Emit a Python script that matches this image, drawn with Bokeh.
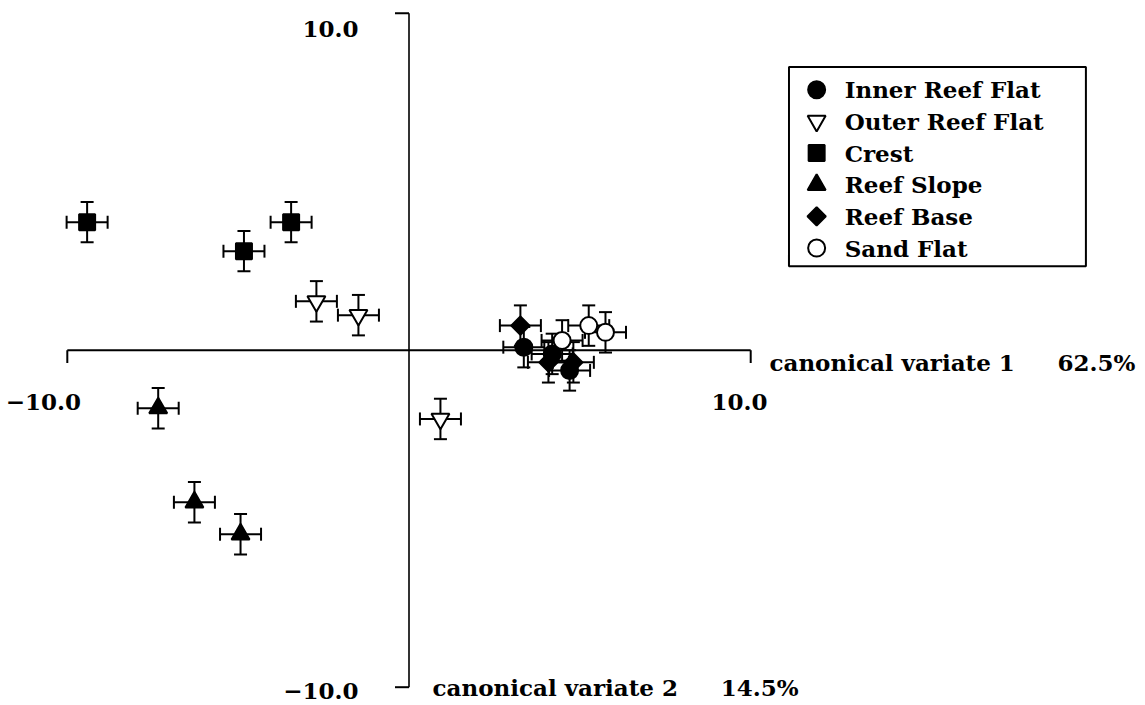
from bokeh.plotting import figure
from bokeh.models import ColumnDataSource, Whisker, TeeHead, Range1d
from bokeh.core.properties import value
from bokeh.embed import file_html
from bokeh.resources import INLINE

# Group means on the first two canonical variates, with error half-widths
groups = ["Inner Reef Flat", "Outer Reef Flat", "Crest", "Reef Slope", "Reef Base", "Sand Flat"]

inner_x = [3.36, 4.19, 4.70]
inner_y = [0.09, -0.11, -0.60]
outer_x = [-2.71, -1.48, 0.92]
outer_y = [1.45, 1.04, -2.04]
crest_x = [-9.42, -4.83, -3.45]
crest_y = [3.80, 2.94, 3.80]
slope_x = [-7.34, -6.28, -4.93]
slope_y = [-1.72, -4.51, -5.46]
base_x = [3.26, 4.08, 4.81]
base_y = [0.73, -0.36, -0.36]
sand_x = [4.48, 5.26, 5.75]
sand_y = [0.29, 0.73, 0.53]

err_x = [0.6, 0.6, 0.6]
err_y = [0.6, 0.6, 0.6]

axis_ticks = [-10.0, 10.0]
axis_tick_labels = ["\u221210.0", "10.0"]
x_title = "canonical variate 1"
x_pct = "62.5%"
y_title = "canonical variate 2"
y_pct = "14.5%"

FONT = value("DejaVu Serif")
FS = "23px"

p = figure(width=1145, height=705,
           x_range=Range1d(-11.955, 21.554), y_range=Range1d(-10.543, 10.377),
           x_axis_type=None, y_axis_type=None,
           toolbar_location=None, output_backend="svg",
           min_border=0, outline_line_color=None)
p.background_fill_color = "white"
p.border_fill_color = "white"

# crossing axes through the origin, ticks only at the ends
x_lo, x_hi = axis_ticks
y_lo, y_hi = axis_ticks
p.segment(x0=[x_lo], y0=[0], x1=[x_hi], y1=[0], line_color="black", line_width=2)
p.segment(x0=[0], y0=[y_lo], x1=[0], y1=[y_hi], line_color="black", line_width=1.6)
p.segment(x0=axis_ticks, y0=[0, 0], x1=axis_ticks, y1=[-0.38, -0.38],
          line_color="black", line_width=2)
p.segment(x0=[0, 0], y0=axis_ticks, x1=[-0.41, -0.41], y1=axis_ticks,
          line_color="black", line_width=2)

TXT = dict(text_font=FONT, text_font_size=FS, text_font_style="bold", text_color="black")

# tick labels
p.text(x=[-10.70, 9.67], y=[-1.53, -1.53], text=axis_tick_labels,
       text_align="center", text_baseline="alphabetic", **TXT)
p.text(x=[-1.48, -1.48], y=[-10.12, 9.54], text=axis_tick_labels,
       text_align="right", text_baseline="alphabetic", **TXT)

# axis titles
p.text(x=[10.55, 18.98], y=[-0.37, -0.37], text=[x_title, x_pct],
       text_align="left", text_baseline="alphabetic", **TXT)
p.text(x=[0.69, 9.12], y=[-10.01, -10.01], text=[y_title, y_pct],
       text_align="left", text_baseline="alphabetic", **TXT)

styles = {
    "Inner Reef Flat": dict(marker="circle", fill_color="black", size=17, angle=0.0),
    "Outer Reef Flat": dict(marker="inverted_triangle", fill_color="white", size=18, angle=0.0),
    "Crest": dict(marker="square", fill_color="black", size=16, angle=0.0),
    "Reef Slope": dict(marker="triangle", fill_color="black", size=18, angle=0.0),
    "Reef Base": dict(marker="square", fill_color="black", size=13, angle=0.785398),
    "Sand Flat": dict(marker="circle", fill_color="white", size=17, angle=0.0),
}
data = {
    "Inner Reef Flat": (inner_x, inner_y),
    "Outer Reef Flat": (outer_x, outer_y),
    "Crest": (crest_x, crest_y),
    "Reef Slope": (slope_x, slope_y),
    "Reef Base": (base_x, base_y),
    "Sand Flat": (sand_x, sand_y),
}

def tee():
    return TeeHead(size=13, line_width=2, line_color="black")

for g in groups:
    xs, ys = data[g]
    src = ColumnDataSource(dict(
        x=xs, y=ys,
        xl=[a - e for a, e in zip(xs, err_x)], xu=[a + e for a, e in zip(xs, err_x)],
        yl=[b - e for b, e in zip(ys, err_y)], yu=[b + e for b, e in zip(ys, err_y)],
    ))
    p.add_layout(Whisker(source=src, base="x", lower="yl", upper="yu", dimension="height",
                         line_width=2, line_color="black",
                         lower_head=tee(), upper_head=tee(), level="underlay"))
    p.add_layout(Whisker(source=src, base="y", lower="xl", upper="xu", dimension="width",
                         line_width=2, line_color="black",
                         lower_head=tee(), upper_head=tee(), level="underlay"))

for g in groups:
    xs, ys = data[g]
    st = styles[g]
    p.scatter(x=xs, y=ys, marker=st["marker"], size=st["size"], angle=st["angle"],
              fill_color=st["fill_color"], line_color="black", line_width=2)

# key box
leg_left, leg_right, leg_top, leg_bottom = 11.12, 19.81, 8.40, 2.49
p.quad(left=[leg_left], right=[leg_right], top=[leg_top], bottom=[leg_bottom],
       fill_color="white", line_color="black", line_width=2)
row_y = [7.73, 6.80, 5.85, 4.91, 3.97, 3.03]
for g, ry in zip(groups, row_y):
    st = styles[g]
    p.scatter(x=[11.93], y=[ry], marker=st["marker"], size=st["size"], angle=st["angle"],
              fill_color=st["fill_color"], line_color="black", line_width=2)
p.text(x=[12.75] * len(groups), y=row_y, text=groups,
       text_align="left", text_baseline="middle", **TXT)

open("out.html", "w").write(file_html(p, INLINE))
